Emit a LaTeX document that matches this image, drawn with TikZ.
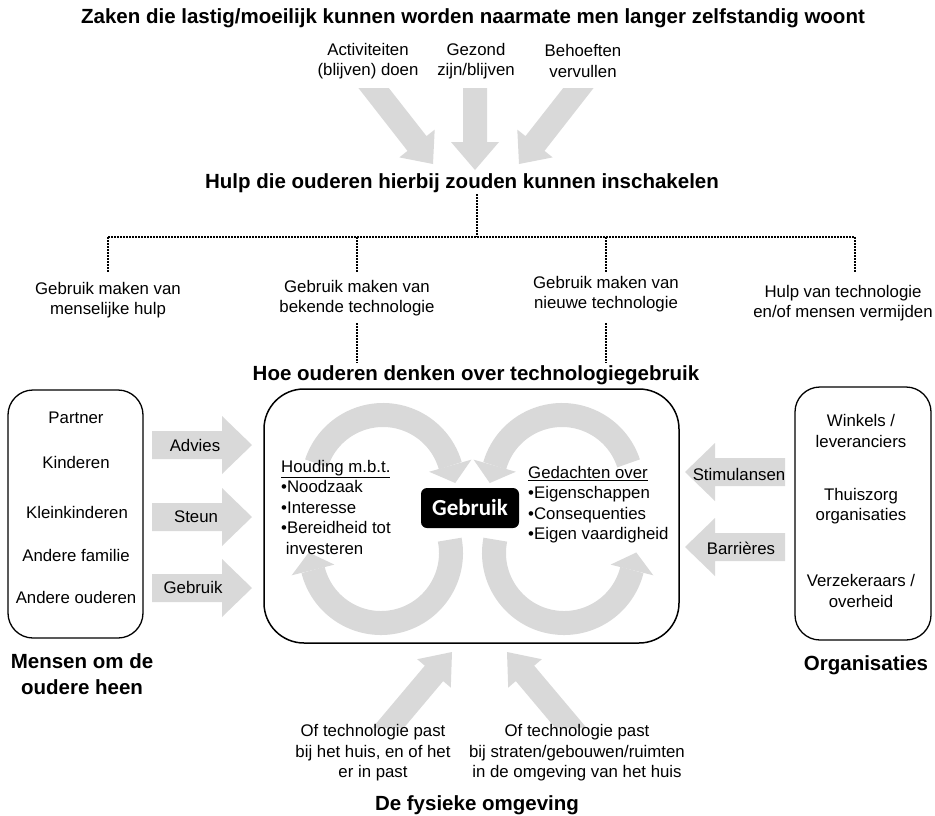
\documentclass[tikz,border=0pt]{standalone}
\usepackage{fontspec}
\setmainfont{Liberation Sans}
\newfontfamily\carlitofont{Carlito}
\usetikzlibrary{calc}
\definecolor{arrowgray}{RGB}{217,217,217}
\newcommand\myBody{\fontsize{16.8pt}{20.5pt}\selectfont}
\newcommand\myHead{\fontsize{20.5pt}{26pt}\selectfont\bfseries}
\tikzset{
  txt/.style={font=\myBody, inner sep=0pt, align=center},
  hdg/.style={font=\myHead, inner sep=0pt, align=center},
  dotline/.style={line width=1.5pt, dash pattern=on 1.5pt off 1.5pt},
  loopband/.style={draw=arrowgray, line width=24pt},
  sidebox/.style={draw, line width=1.3pt},
  blockarrow/.pic={\fill[arrowgray] (-50,-14) -- (20,-14) -- (20,-29) -- (50,0) -- (20,29) -- (20,14) -- (-50,14) -- cycle;}
}
\begin{document}
\begin{tikzpicture}[x=1pt,y=-1pt]
\useasboundingbox (0,0) rectangle (935,815);

% ---------- top ----------
\node[hdg] (title) at (473,18) {Zaken die lastig/moeilijk kunnen worden naarmate men langer zelfstandig woont};
\node[txt] (act) at (368,61) {Activiteiten\\(blijven) doen};
\node[txt] (health) at (476,61) {Gezond\\zijn/blijven};
\node[txt] (needs) at (583,61) {Behoeften\\vervullen};

\fill[arrowgray] (358.4,88) -- (388.8,88) -- (426.5,136.1) -- (434.7,129.6) -- (433,164) -- (399.3,157.4) -- (407.5,150.9) -- cycle;
\fill[arrowgray] (463,88) -- (487,88) -- (487,142) -- (499,142) -- (475,170) -- (451,142) -- (463,142) -- cycle;
\fill[arrowgray] (593.6,88) -- (563.2,88) -- (525.5,136.1) -- (517.3,129.6) -- (519,164) -- (552.7,157.4) -- (544.5,150.9) -- cycle;

\node[hdg] (help) at (462,183) {Hulp die ouderen hierbij zouden kunnen inschakelen};

% ---------- options ----------
\node[txt] (opt1) at (108,300) {Gebruik maken van\\menselijke hulp};
\node[txt] (opt2) at (357,298) {Gebruik maken van\\bekende technologie};
\node[txt] (opt3) at (606,294) {Gebruik maken van\\nieuwe technologie};
\node[txt] (opt4) at (843,303) {Hulp van technologie\\en/of mensen vermijden};

\coordinate (hubtop) at (477,194);
\coordinate (hub) at (477,237);
\coordinate (busL) at (108,237);
\coordinate (bus2) at (357,237);
\coordinate (bus3) at (606,237);
\coordinate (busR) at (855,237);
\coordinate (d1) at (108,272);
\coordinate (d2) at (357,272);
\coordinate (d3) at (606,272);
\coordinate (d4) at (855,272);
\coordinate (u2) at (357,323);
\coordinate (u3) at (606,323);
\coordinate (v2) at (357,363);
\coordinate (v3) at (606,363);
\draw[dotline] (hubtop) -- (hub);
\draw[dotline] (busL) -- (busR);
\draw[dotline] (busL) -- (d1);
\draw[dotline] (bus2) -- (d2);
\draw[dotline] (bus3) -- (d3);
\draw[dotline] (busR) -- (d4);
\draw[dotline] (u2) -- (v2);
\draw[dotline] (u3) -- (v3);

\node[hdg] (think) at (476,375) {Hoe ouderen denken over technologiegebruik};

% ---------- central box ----------
\node[draw, line width=1.5pt, rounded corners=40pt, minimum width=415pt, minimum height=254pt] (mind) at (471.5,516) {};

\coordinate (c1) at (383,485);
\coordinate (c2) at (562,485);
\coordinate (c3) at (381,553);
\coordinate (c4) at (564,553);

\draw[loopband] ($(c1)+(198:70)$) arc[start angle=198, end angle=344, radius=70];
\fill[arrowgray] ($(c1)+(344:92)$) -- ($(c1)+(344:48)$) -- ($(c1)+(344:70)+(74:18)$) -- cycle;
\draw[loopband] ($(c2)+(342:70)$) arc[start angle=342, end angle=196, radius=70];
\fill[arrowgray] ($(c2)+(196:92)$) -- ($(c2)+(196:48)$) -- ($(c2)+(196:70)+(106:18)$) -- cycle;
\draw[loopband] ($(c3)+(-11:70)$) arc[start angle=-11, end angle=166, radius=70];
\fill[arrowgray] ($(c3)+(166:92)$) -- ($(c3)+(166:48)$) -- ($(c3)+(166:70)+(256:18)$) -- cycle;
\draw[loopband] ($(c4)+(191:70)$) arc[start angle=191, end angle=14, radius=70];
\fill[arrowgray] ($(c4)+(14:92)$) -- ($(c4)+(14:48)$) -- ($(c4)+(14:70)+(-76:18)$) -- cycle;

\node[fill=black, rounded corners=6pt, minimum width=98pt, minimum height=40pt, inner sep=0pt, text=white, font=\carlitofont\bfseries\fontsize{23pt}{26pt}\selectfont] (use) at (470,508) {Gebruik};

\node[txt, align=left, anchor=north west] (attitude) at (281,460) {\underline{Houding m.b.t.}\\•Noodzaak\\•Interesse\\•Bereidheid tot\\\hspace*{4.6pt}investeren};
\node[txt, align=left, anchor=north west] (thoughts) at (528,466) {\underline{Gedachten over}\\•Eigenschappen\\•Consequenties\\•Eigen vaardigheid};

% ---------- left: people ----------
\node[sidebox, rounded corners=25pt, minimum width=135pt, minimum height=248pt] (people) at (75.5,514) {};
\node[txt] (partner) at (76,418) {Partner};
\node[txt] (kids) at (76,462) {Kinderen};
\node[txt] (grandkids) at (77,512) {Kleinkinderen};
\node[txt] (family) at (76,555) {Andere familie};
\node[txt] (peers) at (76,597) {Andere ouderen};
\node[hdg] (peoplelabel) at (82,674) {Mensen om de\\oudere heen};

\pic at (202,445) {blockarrow};
\pic at (202,517) {blockarrow};
\pic at (202,588) {blockarrow};
\node[txt] (advies) at (195,445) {Advies};
\node[txt] (steun) at (196,517) {Steun};
\node[txt] (gebruikarrow) at (193,587) {Gebruik};

% ---------- right: organisations ----------
\node[sidebox, rounded corners=25pt, minimum width=136pt, minimum height=253pt] (orgs) at (863,513.5) {};
\node[txt] (shops) at (861,431) {Winkels /\\leveranciers};
\node[txt] (homecare) at (861,506) {Thuiszorg\\organisaties};
\node[txt] (insurers) at (861,591) {Verzekeraars /\\overheid};
\node[hdg] (orgslabel) at (866,665) {Organisaties};

\pic[rotate=180] at (735,472) {blockarrow};
\pic[rotate=180] at (735,547) {blockarrow};
\node[txt] (stim) at (739,474) {Stimulansen};
\node[txt] (barr) at (741,548) {Barrières};

% ---------- bottom: physical environment ----------
\fill[arrowgray] (372.3,728) -- (424.8,665.7) -- (417.2,659.2) -- (452,652) -- (450.8,687.6) -- (443.2,681.1) -- (403.7,728) -- cycle;
\fill[arrowgray] (586.7,728) -- (534.2,665.7) -- (541.8,659.2) -- (507,652) -- (508.2,687.6) -- (515.8,681.1) -- (555.3,728) -- cycle;

\node[txt] (house) at (373,753) {Of technologie past\\bij het huis, en of het\\er in past};
\node[txt] (street) at (577,753) {Of technologie past\\bij straten/gebouwen/ruimten\\in de omgeving van het huis};
\node[hdg] (envlabel) at (477,805) {De fysieke omgeving};
\end{tikzpicture}
\end{document}
